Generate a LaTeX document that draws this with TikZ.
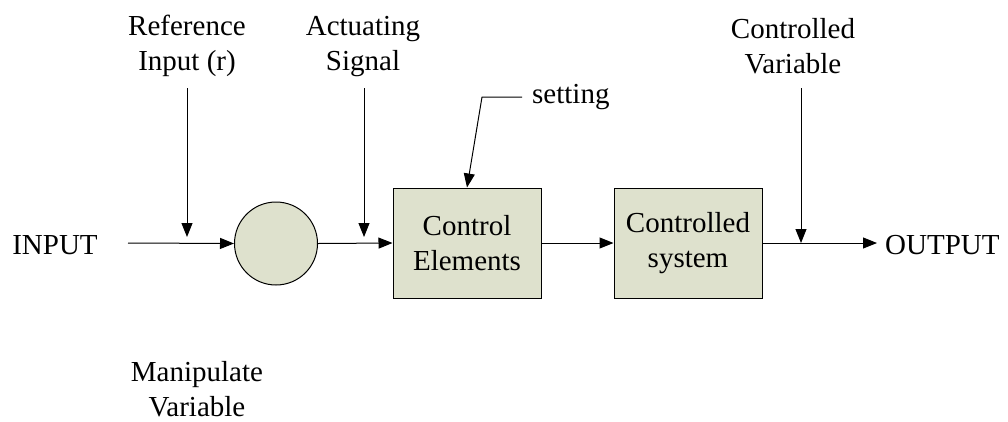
\documentclass[tikz,border=0pt]{standalone}
\usepackage{fontspec}
\setmainfont{Liberation Serif}
\usetikzlibrary{arrows.meta}
\definecolor{boxfill}{RGB}{222,225,205}
\begin{document}
\begin{tikzpicture}[x=1pt,y=-1pt,
  every node/.style={font=\fontsize{29}{35}\selectfont},
  lbl/.style={inner sep=0pt,align=center},
  blk/.style={draw,fill=boxfill,line width=1pt,minimum width=148pt,minimum height=110pt,inner sep=0pt,align=center},
  sum/.style={draw,fill=boxfill,circle,line width=1pt,minimum size=83pt,inner sep=0pt},
  conn/.style={line width=1pt,-{Triangle[length=14pt,width=11pt]}}]
\useasboundingbox (0,0) rectangle (1008,421);
\node[lbl] (input) at (55,245) {INPUT};
\node[sum] (circ) at (276,243.5) {};
\node[blk] (ce) at (467,243) {Control\\Elements};
\node[blk] (cs) at (688,243) {Controlled\\system};
\node[lbl,anchor=west] (output) at (885,245) {OUTPUT};
\node[lbl] (ref) at (187,46) {Reference\\Input (r)};
\node[lbl] (act) at (363,47) {Actuating\\Signal};
\node[lbl] (cv) at (793,46) {Controlled\\Variable};
\node[lbl,anchor=west] (set) at (532,97) {setting};
\node[lbl] (manip) at (197,389) {Manipulate\\Variable};
\coordinate (inStart) at (128,243);
\coordinate (refTop) at (187,88);
\coordinate (refEnd) at (187,237);
\coordinate (actTop) at (364,88);
\coordinate (actEnd) at (364,237);
\coordinate (cvTop) at (801,88);
\coordinate (cvEnd) at (801,243);
\coordinate (outEnd) at (877,243);
\coordinate (setA) at (522,97);
\coordinate (setB) at (482,97);
\draw[conn] (inStart) -- (circ.west);
\draw[conn] (refTop) -- (refEnd);
\draw[conn] (circ.east) -- (ce.west);
\draw[conn] (actTop) -- (actEnd);
\draw[conn] (ce.east) -- (cs.west);
\draw[conn] (cs.east) -- (outEnd);
\draw[conn] (cvTop) -- (cvEnd);
\draw[conn] (setA) -- (setB) -- (ce.north);
\end{tikzpicture}
\end{document}
